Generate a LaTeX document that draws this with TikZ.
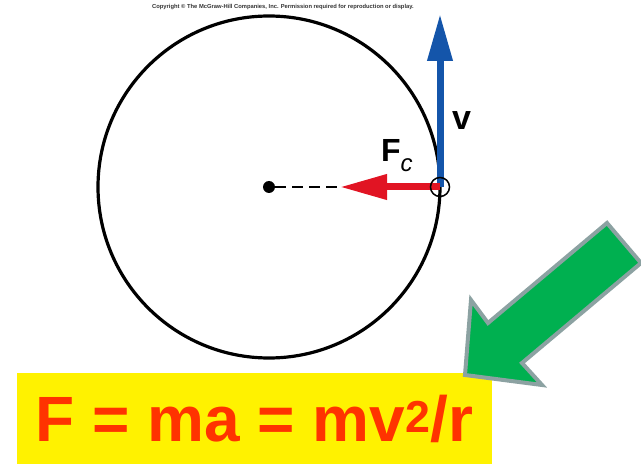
\documentclass[tikz,border=0pt]{standalone}
\usepackage{fontspec}
\setmainfont{Liberation Sans}
\usetikzlibrary{arrows.meta,positioning}
\definecolor{velblue}{RGB}{20,85,170}
\definecolor{forcered}{RGB}{225,20,35}
\definecolor{eqnred}{RGB}{255,51,0}
\definecolor{hintgreen}{RGB}{0,176,80}
\definecolor{hintgray}{RGB}{140,162,162}

\begin{document}
\begin{tikzpicture}[
                x=1pt, y=-1pt,
                node distance=4pt,
                vec/.style={line width=7pt, -{Triangle[length=47pt, width=24pt]}},
                lbl/.style={font=\bfseries\fontsize{30}{32}\selectfont, inner sep=0pt},
                particle/.style={circle, draw, line width=1.5pt, inner sep=0pt, minimum size=19pt}
            ]
            \useasboundingbox (0,0) rectangle (641,465);
            \node[font=\bfseries\fontsize{5.8}{7}\selectfont, text=black!80, inner sep=0pt] (copy) at (283,7)
                {Copyright © The McGraw-Hill Companies, Inc. Permission required for reproduction or display.};
            \draw[line width=3.2pt] (269,187) circle[radius=171];
            \node[circle, fill, inner sep=0pt, minimum size=12pt] (ctr) at (269,187) {};
            \coordinate (pos)  at (440,187);
            \coordinate (vtip) at (440,14);
            \coordinate (ftip) at (340,187);
            \draw[line width=1.5pt, dash pattern=on 11pt off 6pt] (ctr) -- (ftip);
            \draw[vec, velblue] (pos) -- (vtip);
            \draw[vec, forcered] (pos) -- (ftip);
            \node[particle] (obj) at (pos) {};
            \node[lbl, anchor=base west, font=\bfseries\fontsize{34}{36}\selectfont] (vlbl) at (452,130) {v};
            \node[lbl, anchor=base west, font=\bfseries\fontsize{32}{34}\selectfont] (flbl) at (381,162)
                {F\raisebox{-10pt}{\fontsize{24}{24}\mdseries\itshape\selectfont c}};
            % equation box and pointer
            \node[fill=yellow, minimum width=475pt, minimum height=91pt, inner sep=0pt,
                  text=eqnred, font=\bfseries\fontsize{64}{66}\selectfont] (eqn) at (254.5,418.5)
                {F = ma = mv\textsuperscript{2}/r};
            \draw[draw=hintgray, fill=hintgreen, line width=4pt, line join=miter]
                (607,223) -- (641,263) -- (522,363) -- (542,385) -- (465,375) -- (471,300) -- (488,323) -- cycle;
            \end{tikzpicture}
\end{document}
